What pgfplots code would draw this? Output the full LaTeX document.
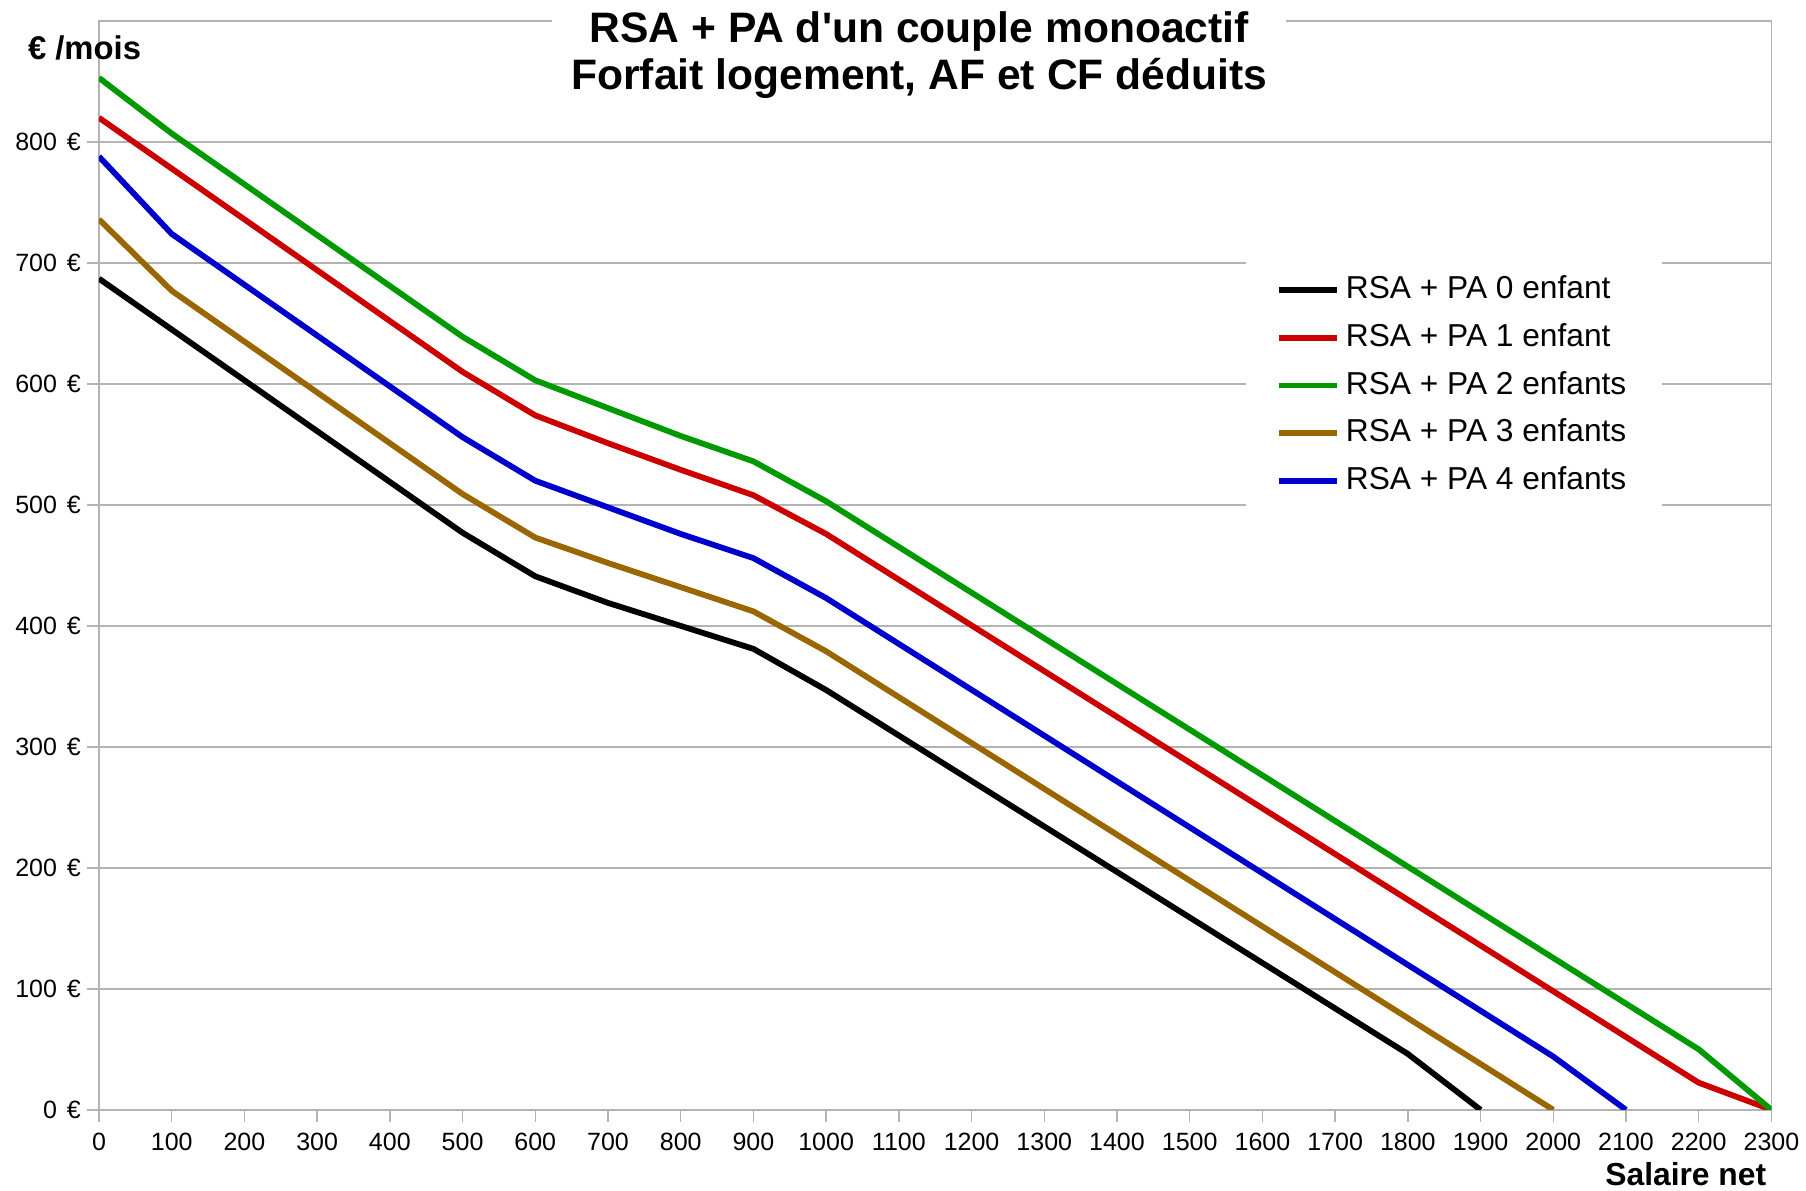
\documentclass[border=0pt]{standalone}
\usepackage{pgfplots}
\pgfplotsset{compat=1.18}
\usepackage{fontspec}
\setmainfont{Liberation Sans}
\newfontfamily\titlefont{Liberation Sans}[Ligatures=TeXOff]
\definecolor{c0}{HTML}{000000}
\definecolor{c1}{HTML}{CC0000}
\definecolor{c2}{HTML}{009900}
\definecolor{c3}{HTML}{996600}
\definecolor{c4}{HTML}{0000CC}
\definecolor{gridc}{HTML}{B3B3B3}

\pgfplotstableread{
x y
0 687
100 645
200 603
300 561
400 519
500 477
600 441
700 419
800 400
900 381
1000 347
1100 309.4
1200 271.8
1300 234.2
1400 196.6
1500 159
1600 121.4
1700 83.8
1800 46.2
1900 0
}\enfA
\pgfplotstableread{
x y
0 820
100 778
200 736
300 694
400 652
500 610
600 574
700 551
800 529
900 508
1000 476
1100 438.2
1200 400.4
1300 362.6
1400 324.8
1500 287
1600 249.2
1700 211.4
1800 173.6
1900 135.8
2000 98
2100 60.2
2200 22.4
2300 0
}\enfB
\pgfplotstableread{
x y
0 853
100 807
200 765
300 723
400 681
500 639
600 603
700 580
800 557
900 536
1000 503
1100 465.25
1200 427.5
1300 389.75
1400 352
1500 314.25
1600 276.5
1700 238.75
1800 201
1900 163.25
2000 125.5
2100 87.75
2200 50
2300 0
}\enfC
\pgfplotstableread{
x y
0 736
100 677
200 635
300 593
400 551
500 509
600 473
700 452
800 432
900 412
1000 379
1100 341.1
1200 303.2
1300 265.3
1400 227.4
1500 189.5
1600 151.6
1700 113.7
1800 75.8
1900 37.9
2000 0
}\enfD
\pgfplotstableread{
x y
0 788
100 724
200 682
300 640
400 598
500 556
600 520
700 498
800 476
900 456
1000 423
1100 385.1
1200 347.2
1300 309.3
1400 271.4
1500 233.5
1600 195.6
1700 157.7
1800 119.8
1900 81.9
2000 44
2100 0
}\enfE

\begin{document}
\begin{tikzpicture}
\begin{axis}[
  at={(49.5pt,40.1pt)}, anchor=south west,
  scale only axis, width=836.2pt, height=544.4pt,
  xmin=0, xmax=2300, ymin=0, ymax=900,
  xtick={0,100,...,2300}, ytick={0,100,...,800},
  axis line style={gridc, line width=0.75pt},
  ymajorgrids, grid style={gridc, line width=0.75pt},
  tick style={gridc, line width=0.75pt},
  tick align=outside, major tick length=6pt,
  xtick pos=left, ytick pos=left,
  ticklabel style={font=\fontsize{12.5}{15}\selectfont, text=black},
  /pgf/number format/assume math mode=true,
  x tick label style={/pgf/number format/1000 sep={}, yshift=-2pt},
  yticklabel={\pgfmathprintnumber{\tick}\hspace{0.4em}€},
  y tick label style={xshift=0.5pt},
  scaled ticks=false,
  legend style={at={(axis cs:1577,706)}, anchor=north west, draw=none, fill=white,
    font=\fontsize{15.85}{18}\selectfont, inner xsep=15pt, inner ysep=5pt,
    row sep=0pt,
    nodes={inner xsep=3pt, inner ysep=4.7pt, text height=11.5pt, text depth=3pt}},
  legend cell align=left,
  legend image code/.code={\draw[#1] (0pt,0pt) -- (29pt,0pt);},
  every axis plot/.append style={line width=2.9pt, line join=round},
]
\addplot[c0] table {\enfA};
\addlegendentry{RSA + PA 0 enfant}
\addplot[c1] table {\enfB};
\addlegendentry{RSA + PA 1 enfant}
\addplot[c2] table {\enfC};
\addlegendentry{RSA + PA 2 enfants}
\addplot[c3] table {\enfD};
\addlegendentry{RSA + PA 3 enfants}
\addplot[c4] table {\enfE};
\addlegendentry{RSA + PA 4 enfants}
\end{axis}
\fill[white] (276pt,541pt) rectangle (643pt,595pt);
\node[anchor=base, inner sep=0pt, font=\titlefont\fontsize{21.3}{24}\selectfont\bfseries] at (459.6pt,573.7pt) {RSA + PA d'un couple monoactif};
\node[anchor=base, inner sep=0pt, font=\titlefont\fontsize{21.3}{24}\selectfont\bfseries] at (459.6pt,550.1pt) {Forfait logement, AF et CF déduits};
\node[anchor=base west, inner sep=0pt, font=\fontsize{16.4}{18}\selectfont\bfseries] at (13.8pt,565.3pt) {€ /mois};
\node[anchor=base east, inner sep=0pt, font=\fontsize{15.9}{18}\selectfont\bfseries] at (883.3pt,2.5pt) {Salaire net};
\pgfresetboundingbox
\useasboundingbox (0pt,0pt) rectangle (903pt,595pt);
\end{tikzpicture}
\end{document}
